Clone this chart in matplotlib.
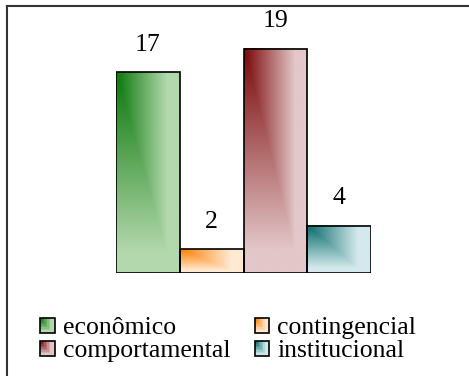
import matplotlib
matplotlib.use("Agg")
import matplotlib.pyplot as plt
import numpy as np
from matplotlib.patches import Rectangle
from matplotlib.lines import Line2D
from matplotlib.legend_handler import HandlerBase

plt.rcParams['font.family'] = ['Liberation Serif', 'DejaVu Serif']

# dados
categorias = ['econômico', 'contingencial', 'comportamental', 'institucional']
valores = [17, 2, 19, 4]
escuros = ['#0a780a', '#ff8000', '#7a0808', '#086a6a']
claros = ['#b3d8ad', '#ffe9d2', '#e3c7c9', '#d3e9ec']

W, H, DPI = 4.69, 3.76, 100
fig = plt.figure(figsize=(W, H), dpi=DPI)
ax = fig.add_axes([116 / 469, 103 / 376, 255 / 469, 236 / 376])
ax.axis('off')

px_x = 255 / 4.0
px_y = 236 / 20.0


def hex2rgb(c):
    return np.array(matplotlib.colors.to_rgb(c))


def gradiente(w, h, escuro, claro):
    # gradiente "a partir do canto" (superior esquerdo)
    u = np.linspace(0, 1, max(int(w), 2))
    v = np.linspace(0, 1, max(int(h), 2))
    U, V = np.meshgrid(u, v)
    t = np.maximum(U / 0.8, V / 0.9)
    t = np.clip(t, 0, 1)
    d, c = hex2rgb(escuro), hex2rgb(claro)
    return d[None, None, :] * (1 - t[..., None]) + c[None, None, :] * t[..., None]


x = np.arange(len(valores))
ax.bar(x, valores, width=1.0, facecolor='none', edgecolor='black',
       linewidth=1.2, zorder=3)
for i, v in enumerate(valores):
    img = gradiente(px_x, v * px_y, escuros[i], claros[i])
    ax.imshow(img, extent=[i - 0.5, i + 0.5, 0, v], origin='upper',
              aspect='auto', zorder=2, interpolation='bilinear')
    ax.text(i, v + 1.4, str(v), ha='center', va='bottom', fontsize=18.5)
ax.set_xlim(-0.5, 3.5)
ax.set_ylim(0, 20)


class HandlerGrad(HandlerBase):
    def __init__(self, escuro, claro):
        super().__init__()
        self.escuro = escuro
        self.claro = claro

    def create_artists(self, legend, orig_handle, xdescent, ydescent,
                       width, height, fontsize, trans):
        n = 10
        artists = []
        s = min(width, height)
        x0, y0 = -xdescent, -ydescent
        img = gradiente(n, n, self.escuro, self.claro)
        d = s / n
        for r in range(n):
            for c in range(n):
                artists.append(Rectangle((x0 + c * d, y0 + s - (r + 1) * d), d, d,
                                         facecolor=img[r, c], edgecolor='none',
                                         transform=trans))
        artists.append(Rectangle((x0, y0), s, s, facecolor='none',
                                 edgecolor='black', linewidth=1.2,
                                 transform=trans))
        return artists


handles = [Rectangle((0, 0), 1, 1) for _ in categorias]
hmap = {h: HandlerGrad(escuros[i], claros[i]) for i, h in enumerate(handles)}
ordem = [0, 2, 1, 3]
fig.legend([handles[k] for k in ordem], [categorias[k] for k in ordem],
           handler_map=hmap, ncol=2, loc='upper left',
           bbox_to_anchor=(40 / 469, 1 - 317 / 376), frameon=False,
           fontsize=18.5, borderpad=0, borderaxespad=0,
           handlelength=0.58, handleheight=0.58, handletextpad=0.3,
           columnspacing=0.95, labelspacing=0.05)

# moldura
fig.add_artist(Line2D([6.5 / 469, 1], [1 - 5.5 / 376, 1 - 5.5 / 376],
                      transform=fig.transFigure, color='#333333', lw=1.5))
fig.add_artist(Line2D([6.5 / 469, 6.5 / 469], [0, 1 - 5.5 / 376],
                      transform=fig.transFigure, color='#333333', lw=1.5))

fig.savefig('out.png', dpi=DPI)
